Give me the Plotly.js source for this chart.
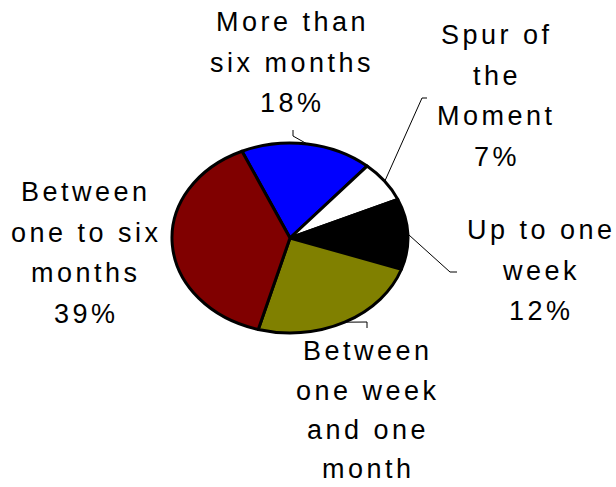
<!DOCTYPE html>
<html>
<head>
<meta charset="utf-8">
<script src="https://cdn.plot.ly/plotly-3.0.1.min.js"></script>
<style>
  html, body { margin: 0; padding: 0; background: #fff; }
  #chart { width: 616px; height: 487px; }
  .pielayer path { vector-effect: non-scaling-stroke; }
  .annotation-text { letter-spacing: 3.5px; }
</style>
</head>
<body>
<div id="chart"></div>
<script>
// ---- data ----
const categories = ["More than six months", "Spur of the Moment", "Up to one week",
                    "Between one week and one month", "Between one to six months"];
const values = [18, 7, 12, 24, 39];
const colors = ["#0000FF", "#FFFFFF", "#000000", "#808000", "#800000"];
const labelLines = [
  ["More than", "six months"],
  ["Spur of", "the", "Moment"],
  ["Up to one", "week"],
  ["Between", "one week", "and one", "month"],
  ["Between", "one to six", "months"]
];

// ---- layout constants (pixels) ----
const W = 616, H = 487;
const cxPx = 290, cyPx = 238, rx = 118, ry = 95;
const startRotation = -24;
const fontSize = 27;
// label block: centre x, first baseline y, line step
const labelPos = [[292, 32, 40.5], [497, 45, 40.5], [541, 240, 40.5], [368, 361, 39.3], [86, 202, 40.5]];
// leader elbow and end points
const leaderPts = [
  [[293, 136], [293, 130]],
  [[422, 98], [427, 98]],
  [[450, 272], [457, 272]],
  [[367, 322], [367, 328]]
];

const px = x => x / W;
const py = y => 1 - y / H;

const total = values.reduce((a, b) => a + b, 0);

const trace = {
  type: 'pie',
  values: values,
  labels: categories,
  sort: false,
  direction: 'clockwise',
  rotation: startRotation,
  textinfo: 'none',
  hoverinfo: 'none',
  marker: { colors: colors, line: { color: '#000000', width: 3 } },
  domain: { x: [px(cxPx - rx), px(cxPx + rx)], y: [py(cyPx + rx), py(cyPx - rx)] },
  showlegend: false
};

// annotations: one per text line (lines falling below the page are not drawn)
const annotations = [];
labelLines.forEach((lines, i) => {
  const pct = Math.round(values[i] / total * 100) + '%';
  const all = lines.concat([pct]);
  all.forEach((t, j) => {
    const base = labelPos[i][1] + j * labelPos[i][2];
    if (base - 0.72 * fontSize > H) return;
    annotations.push({
      xref: 'paper', yref: 'paper',
      x: px(labelPos[i][0]), y: py(base - 0.36 * fontSize),
      xanchor: 'center', yanchor: 'middle', borderpad: 0,
      text: t, showarrow: false,
      font: { family: 'Liberation Sans, Arial, sans-serif', size: fontSize, color: '#000' }
    });
  });
});

// leader lines from slice mid-angle on the ellipse edge
const shapes = [];
let cum = 0;
values.forEach((v, i) => {
  const a = (startRotation + (cum + v / 2) / total * 360) * Math.PI / 180;
  cum += v;
  if (i >= leaderPts.length) return;
  const sx = cxPx + rx * Math.sin(a), sy = cyPx - ry * Math.cos(a);
  const [e1, e2] = leaderPts[i];
  shapes.push({
    type: 'path', xref: 'paper', yref: 'paper',
    path: `M${px(sx)},${py(sy)} L${px(e1[0])},${py(e1[1])} L${px(e2[0])},${py(e2[1])}`,
    line: { color: '#000', width: 1 }
  });
});

const layout = {
  width: W, height: H,
  margin: { l: 0, r: 0, t: 0, b: 0 },
  paper_bgcolor: '#fff', plot_bgcolor: '#fff',
  annotations: annotations,
  shapes: shapes,
  showlegend: false
};

Plotly.newPlot('chart', [trace], layout, { staticPlot: true, displayModeBar: false }).then(gd => {
  const s = ry / rx;
  const layer = gd.querySelector('.pielayer');
  if (layer) layer.setAttribute('transform', `translate(0,${cyPx * (1 - s)}) scale(1,${s})`);
});
</script>
</body>
</html>
